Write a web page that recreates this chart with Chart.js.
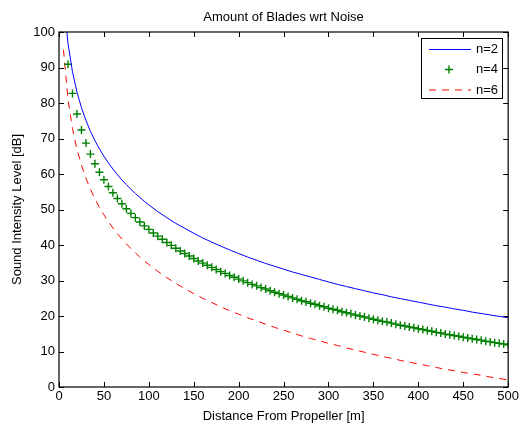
<!DOCTYPE html>
<html>
<head>
<meta charset="utf-8">
<script src="https://cdn.jsdelivr.net/npm/chart.js@4.4.0/dist/chart.umd.min.js"></script>
<style>
  body { margin: 0; background: #fff; }
  #wrap { width: 521px; height: 423px; position: relative; }
</style>
</head>
<body>
<div id="wrap"><canvas id="noiseChart"></canvas></div>
<script>
//distances for the n=2 and n=6 curves [m]
const lineDist = [5,10,15,20,25,30,35,40,45,50,55,60,65,70,75,80,85,90,95,100,
  110,120,130,140,150,160,170,180,190,200,210,220,230,240,250,260,270,280,290,300,
  310,320,330,340,350,360,370,380,390,400,410,420,430,440,450,460,470,480,490,500];
//sound level [dB], n=2 (solid blue)
const levelN2 = [110.5,96.8,88.8,83.1,78.7,75.1,72.0,69.4,67.1,65.0,63.1,61.4,59.8,58.3,57.0,55.7,54.5,53.4,52.3,51.3,
  49.4,47.7,46.1,44.7,43.3,42.0,40.8,39.7,38.6,37.6,36.6,35.7,34.8,34.0,33.2,32.4,31.7,31.0,30.3,29.6,
  28.9,28.3,27.7,27.1,26.5,26.0,25.4,24.9,24.4,23.9,23.4,22.9,22.5,22.0,21.6,21.1,20.7,20.3,19.9,19.5];
//sound level [dB], n=6 (dashed red)
const levelN6 = [95.0,81.0,72.8,67.0,62.5,58.8,55.7,53.0,50.6,48.5,46.6,44.8,43.2,41.7,40.3,39.0,37.8,36.6,35.5,34.5,
  32.6,30.8,29.2,27.7,26.3,25.0,23.8,22.6,21.5,20.5,19.5,18.6,17.7,16.8,16.0,15.2,14.4,13.7,13.0,12.3,
  11.7,11.0,10.4,9.8,9.2,8.6,8.1,7.5,7.0,6.5,6.0,5.5,5.0,4.6,4.1,3.7,3.3,2.8,2.4,2.0];

//distances for the n=4 markers [m]
const markerDist = [10,15,20,25,30,35,40,45,50,55,
  60,65,70,75,80,85,90,95,100,105,
  110,115,120,125,130,135,140,145,150,155,
  160,165,170,175,180,185,190,195,200,205,
  210,215,220,225,230,235,240,245,250,255,
  260,265,270,275,280,285,290,295,300,305,
  310,315,320,325,330,335,340,345,350,355,
  360,365,370,375,380,385,390,395,400,405,
  410,415,420,425,430,435,440,445,450,455,
  460,465,470,475,480,485,490,495,500];
//sound level [dB], n=4 (green +)
const levelN4 = [90.9,82.7,76.9,72.4,68.7,65.6,62.9,60.5,58.4,56.5,
  54.7,53.1,51.6,50.2,48.9,47.7,46.5,45.4,44.4,43.4,
  42.5,41.6,40.7,39.9,39.1,38.3,37.6,36.9,36.2,35.5,
  34.9,34.3,33.7,33.1,32.5,32.0,31.4,30.9,30.4,29.9,
  29.4,28.9,28.5,28.0,27.6,27.1,26.7,26.3,25.9,25.5,
  25.1,24.7,24.3,24.0,23.6,23.3,22.9,22.6,22.2,21.9,
  21.6,21.2,20.9,20.6,20.3,20.0,19.7,19.4,19.1,18.8,
  18.5,18.3,18.0,17.7,17.4,17.2,16.9,16.7,16.4,16.2,
  15.9,15.7,15.4,15.2,14.9,14.7,14.5,14.3,14.0,13.8,
  13.6,13.4,13.2,12.9,12.7,12.5,12.3,12.1,11.9];

const seriesNames = ['n=2', 'n=4', 'n=6'];
const chartTitle = 'Amount of Blades wrt Noise';
const xTitle = 'Distance From Propeller [m]';
const yTitle = 'Sound Intensity Level [dB]';

const FONT = "'Liberation Sans', Arial, Helvetica, sans-serif";
const TICK_LEN = 5;
const MARK = 4;

function toPoints(xs, ys) {
  return xs.map((x, i) => ({x: x, y: ys[i]}));
}

//box, inward ticks, title and legend the matlab way
const framePlugin = {
  id: 'frame',
  afterDraw(chart) {
    const ctx = chart.ctx;
    const a = chart.chartArea;
    const xs = chart.scales.x;
    const ys = chart.scales.y;
    ctx.save();
    ctx.strokeStyle = '#000';
    ctx.lineWidth = 1.2;
    ctx.strokeRect(a.left, a.top, a.right - a.left, a.bottom - a.top);
    ctx.lineWidth = 1;
    ctx.beginPath();
    xs.ticks.forEach(t => {
      const px = Math.round(xs.getPixelForValue(t.value)) + 0.5;
      ctx.moveTo(px, a.bottom); ctx.lineTo(px, a.bottom - TICK_LEN);
      ctx.moveTo(px, a.top); ctx.lineTo(px, a.top + TICK_LEN);
    });
    ys.ticks.forEach(t => {
      const py = Math.round(ys.getPixelForValue(t.value)) + 0.5;
      ctx.moveTo(a.left, py); ctx.lineTo(a.left + TICK_LEN, py);
      ctx.moveTo(a.right, py); ctx.lineTo(a.right - TICK_LEN, py);
    });
    ctx.stroke();

    //title
    ctx.fillStyle = '#000';
    ctx.font = '13px ' + FONT;
    ctx.textAlign = 'center';
    ctx.textBaseline = 'middle';
    ctx.fillText(chartTitle, (a.left + a.right) / 2, 17);

    //legend box
    const lx = 421, ly = 38, lw = 81, lh = 60;
    ctx.fillStyle = '#fff';
    ctx.fillRect(lx, ly, lw, lh);
    ctx.strokeStyle = '#000';
    ctx.strokeRect(lx + 0.5, ly + 0.5, lw, lh);
    const ds = chart.data.datasets;
    const rows = [49.5, 69.5, 90];
    ds.forEach((d, i) => {
      const y = rows[i];
      ctx.strokeStyle = d.borderColor;
      if (d.showLine === false) {
        ctx.lineWidth = 1.4;
        ctx.beginPath();
        ctx.moveTo(449 - MARK, y); ctx.lineTo(449 + MARK, y);
        ctx.moveTo(449, y - MARK); ctx.lineTo(449, y + MARK);
        ctx.stroke();
      } else {
        ctx.lineWidth = 1;
        ctx.setLineDash(d.borderDash || []);
        ctx.beginPath();
        ctx.moveTo(429, y); ctx.lineTo(471, y);
        ctx.stroke();
        ctx.setLineDash([]);
      }
      ctx.fillStyle = '#000';
      ctx.textAlign = 'left';
      ctx.fillText(d.label, 476, y);
    });
    ctx.restore();
  }
};

const noiseChart = new Chart(document.getElementById('noiseChart'), {
  type: 'line',
  data: {
    datasets: [{
      label: seriesNames[0],
      data: toPoints(lineDist, levelN2),
      borderColor: 'rgb(0,0,255)',
      borderWidth: 1,
      pointRadius: 0,
      fill: false,
      tension: 0
    },
    {
      label: seriesNames[1],
      data: toPoints(markerDist, levelN4),
      showLine: false,
      borderColor: 'rgb(0,128,0)',
      backgroundColor: 'rgb(0,128,0)',
      pointStyle: 'cross',
      pointRadius: MARK,
      pointBorderWidth: 1.4
    },
    {
      label: seriesNames[2],
      data: toPoints(lineDist, levelN6),
      borderColor: 'rgb(255,0,0)',
      borderWidth: 1,
      borderDash: [7, 6],
      pointRadius: 0,
      fill: false,
      tension: 0
    }]
  },
  options: {
    responsive: true,
    maintainAspectRatio: false,
    animation: false,
    layout: { padding: { top: 32, right: 11, left: 0, bottom: 0 } },
    plugins: {
      legend: { display: false },
      tooltip: { enabled: false },
      title: { display: false }
    },
    scales: {
      x: {
        type: 'linear',
        min: 0,
        max: 500,
        grid: { display: false, drawTicks: false },
        border: { display: false },
        ticks: {
          stepSize: 50,
          padding: 2,
          color: '#000',
          maxRotation: 0,
          font: { family: FONT, size: 13 }
        },
        title: {
          display: true,
          text: xTitle,
          color: '#000',
          padding: { top: 0, bottom: 0 },
          font: { family: FONT, size: 13, lineHeight: 1 }
        },
        afterFit(scale) { scale.height = 36; }
      },
      y: {
        type: 'linear',
        min: 0,
        max: 100,
        grid: { display: false, drawTicks: false },
        border: { display: false },
        ticks: {
          stepSize: 10,
          padding: 4,
          color: '#000',
          font: { family: FONT, size: 13 }
        },
        title: {
          display: true,
          text: yTitle,
          color: '#000',
          padding: { top: 11, bottom: 0 },
          font: { family: FONT, size: 13, lineHeight: 1 }
        },
        afterFit(scale) { scale.width = 59; }
      }
    }
  },
  plugins: [framePlugin]
});
</script>
</body>
</html>
